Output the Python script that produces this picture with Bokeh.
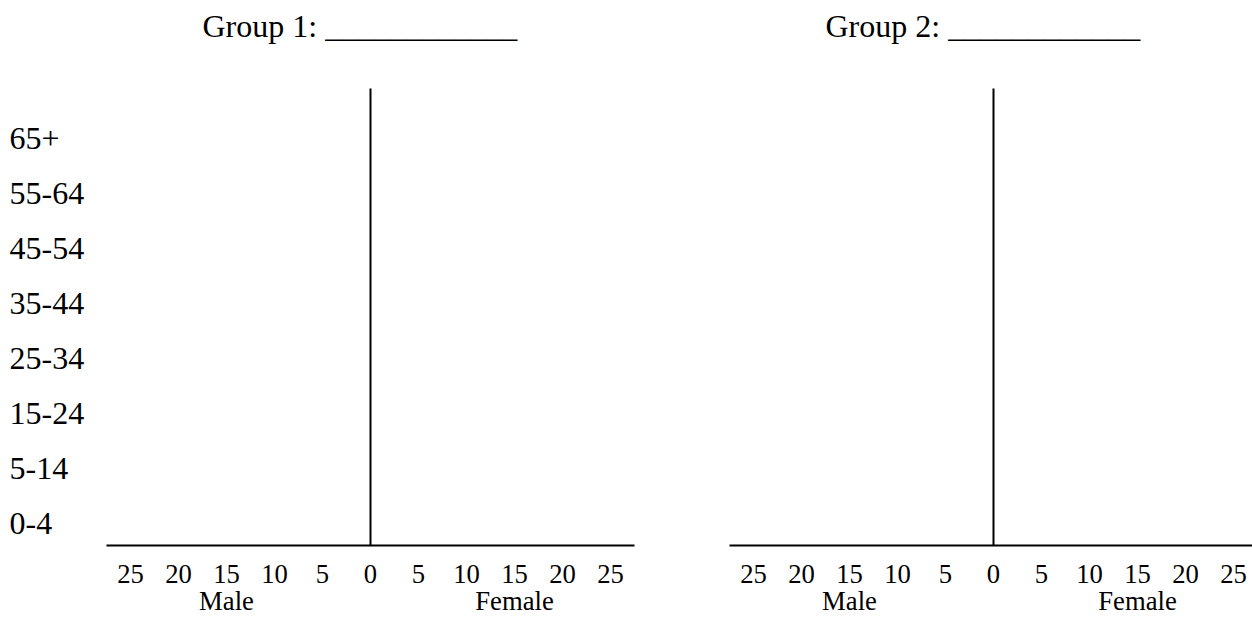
from bokeh.plotting import figure
from bokeh.models import Range1d, FixedTicker, LinearAxis, Label, ColumnDataSource
from bokeh.layouts import row
from bokeh.embed import file_html
from bokeh.resources import INLINE
from bokeh.core.properties import value

# ---- data (blank population-pyramid worksheet) ----
age_groups = ["0-4", "5-14", "15-24", "25-34", "35-44", "45-54", "55-64", "65+"]
x_ticks = [-25, -20, -15, -10, -5, 0, 5, 10, 15, 20, 25]
x_tick_labels = ["25", "20", "15", "10", "5", "0", "5", "10", "15", "20", "25"]
sex_positions = [-15, 15]
sex_labels = ["Male", "Female"]
group_titles = ["Group 1:", "Group 2:"]
blank = "_" * 12

# ---- layout ----
FONT = "Liberation Serif"
PX = 9.6             # pixels per x unit
PY = 55.0            # pixels per age-group row
H = 618
W1 = 681
W2 = 1252 - W1
FRAME_BOTTOM = 545
LINE_TOP_PX = 88
Y0 = -0.4
Y_END = Y0 + FRAME_BOTTOM / PY
LINE_TOP = Y0 + (FRAME_BOTTOM - LINE_TOP_PX) / PY


def make_panel(title, width, zero_px, show_ages):
    x_start = -zero_px / PX
    x_end = (width - zero_px) / PX
    p = figure(width=width, height=H,
               x_range=Range1d(x_start, x_end), y_range=Range1d(Y0, Y_END),
               output_backend="svg", toolbar_location=None,
               y_axis_location=None,
               min_border_left=0, min_border_right=0,
               min_border_top=0, min_border_bottom=H - FRAME_BOTTOM,
               outline_line_color=None)
    p.grid.visible = False

    ax = p.xaxis[0]
    ax.ticker = FixedTicker(ticks=x_ticks)
    ax.major_label_overrides = dict(zip(x_ticks, x_tick_labels))
    ax.bounds = (-27.5, 27.45 if show_ages else 30)
    ax.axis_line_width = 2
    ax.axis_line_color = "black"
    ax.major_tick_line_color = None
    ax.minor_tick_line_color = None
    ax.major_label_standoff = 13
    ax.major_label_text_font = FONT
    ax.major_label_text_font_size = "20pt"
    ax.major_label_text_color = "black"

    ax2 = LinearAxis(ticker=FixedTicker(ticks=sex_positions),
                     major_label_overrides=dict(zip(sex_positions, sex_labels)),
                     axis_line_color=None, major_tick_line_color=None,
                     minor_tick_line_color=None, major_label_standoff=-6,
                     major_label_text_font=FONT,
                     major_label_text_font_size="20pt",
                     major_label_text_color="black")
    p.add_layout(ax2, "below")

    # vertical zero line
    p.segment(x0=[0], y0=[Y0], x1=[0], y1=[LINE_TOP],
              line_color="black", line_width=2)

    if show_ages:
        src = ColumnDataSource(dict(age=age_groups,
                                    pos=list(range(len(age_groups))),
                                    xs=[x_start + 0.95] * len(age_groups)))
        p.text(x="xs", y="pos", text="age", source=src,
               text_font=value(FONT), text_font_size="24pt",
               text_align="left", text_baseline="middle", text_color="black")

    p.add_layout(Label(x=0, y=LINE_TOP, x_offset=-168, y_offset=63,
                       text=title + " " + blank,
                       text_font=FONT, text_font_size="24pt",
                       text_align="left", text_baseline="alphabetic",
                       text_color="black"))
    return p


p1 = make_panel(group_titles[0], W1, 370, True)
p2 = make_panel(group_titles[1], W2, 993 - W1, False)
layout = row(p1, p2)

open("out.html", "w").write(file_html(layout, INLINE))
